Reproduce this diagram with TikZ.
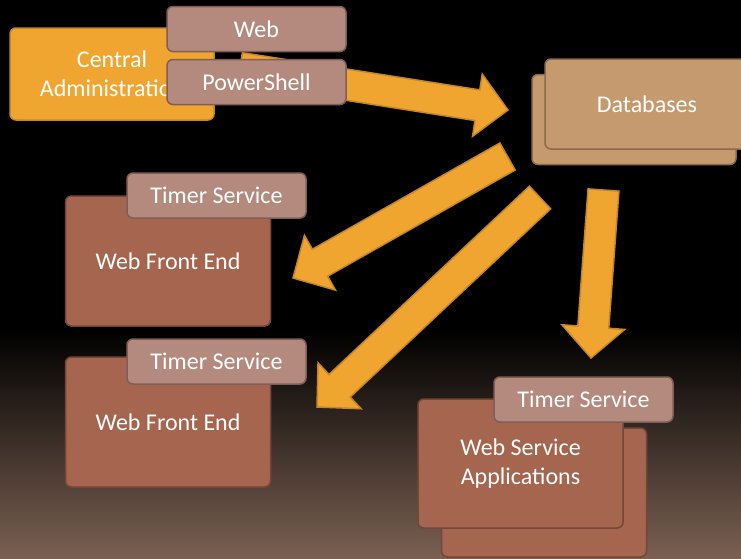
\documentclass[tikz,border=0pt]{standalone}
\usepackage{fontspec}
\setmainfont{Carlito}
\usetikzlibrary{calc}

\definecolor{sporange}{RGB}{240,165,48}
\definecolor{sporangeline}{RGB}{196,134,38}
\definecolor{sptag}{RGB}{181,138,126}
\definecolor{sptagline}{RGB}{126,94,86}
\definecolor{spdb}{RGB}{196,154,110}
\definecolor{spdbline}{RGB}{140,106,74}
\definecolor{spfarm}{RGB}{165,101,78}
\definecolor{spfarmline}{RGB}{116,70,54}
\definecolor{spbottom}{RGB}{122,96,82}

\tikzset{
  panel/.style={rounded corners=6pt, line width=1.5pt, inner sep=0pt,
    text=white, align=center, font=\fontsize{24}{29}\selectfont},
  adminbox/.style={panel, fill=sporange, draw=sporangeline,
    minimum width=204pt, minimum height=92pt},
  tagbox/.style={panel, fill=sptag, draw=sptagline,
    minimum width=179pt, minimum height=45pt},
  dbbox/.style={panel, fill=spdb, draw=spdbline,
    minimum width=204pt, minimum height=90pt},
  farmbox/.style={panel, fill=spfarm, draw=spfarmline,
    minimum width=205pt, minimum height=130pt},
  fatarrow/.style={fill=sporange, draw=sporangeline, line width=1.5pt}
}

% block arrow from #1 to #2
\newcommand\blockarrow[2]{%
  \coordinate (ah) at ($(#2)!31pt!(#1)$);
  \filldraw[fatarrow] ($(#1)!15.5pt!90:(#2)$) -- ($(ah)!15.5pt!90:(#2)$)
    -- ($(ah)!31.5pt!90:(#2)$) -- (#2) -- ($(ah)!31.5pt!-90:(#2)$)
    -- ($(ah)!15.5pt!-90:(#2)$) -- ($(#1)!15.5pt!-90:(#2)$) -- cycle;
}

\begin{document}
\begin{tikzpicture}[x=1pt,y=-1pt]
  \useasboundingbox (0,0) rectangle (741,558);

  % background
  \fill[black] (0,0) rectangle (741,558);
  \shade[top color=black, bottom color=spbottom] (0,330) rectangle (741,558);

  % databases
  \node[dbbox] (dbback) at (634,119.5) {};
  \node[dbbox] (db) at (647,104) {Databases};

  % arrows out of the databases
  \coordinate (wfeonein) at (293,278);
  \coordinate (wfeoneout) at (507.5,156.5);
  \coordinate (wfetwoin) at (317,407);
  \coordinate (wfetwoout) at (540,197.5);
  \coordinate (wsain) at (591,358);
  \coordinate (wsaout) at (603.5,190);
  \blockarrow{wfeoneout}{wfeonein}
  \blockarrow{wfetwoout}{wfetwoin}
  \blockarrow{wsaout}{wsain}

  % central administration
  \node[adminbox] (admin) at (112,74) {Central\\Administration};
  \coordinate (adminout) at (240,68);
  \coordinate (dbin) at (508,110);
  \blockarrow{adminout}{dbin}
  \node[tagbox] (web) at (256.5,29) {Web};
  \node[tagbox] (ps) at (256.5,82) {PowerShell};

  % web front ends
  \node[farmbox] (wfeone) at (168,261) {Web Front End};
  \node[tagbox] (timerone) at (216.5,195.5) {Timer Service};
  \node[farmbox] (wfetwo) at (168,422) {Web Front End};
  \node[tagbox] (timertwo) at (216.5,361.5) {Timer Service};

  % web service applications
  \node[farmbox, minimum height=129pt] (wsaback) at (544,492.5) {};
  \node[farmbox, minimum height=129pt] (wsa) at (520.5,463.5) {Web Service\\Applications};
  \node[tagbox] (timerthree) at (583.5,399.5) {Timer Service};
\end{tikzpicture}
\end{document}
